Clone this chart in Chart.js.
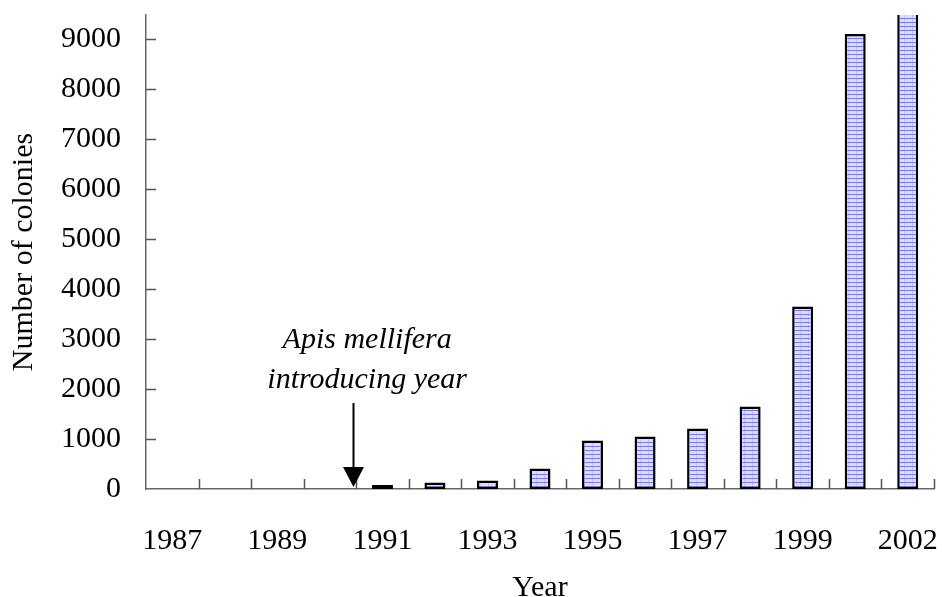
<!DOCTYPE html>
<html>
<head>
<meta charset="utf-8">
<script src="https://cdn.jsdelivr.net/npm/chart.js@4/dist/chart.umd.min.js"></script>
<style>
  body { margin: 0; background: #fff; }
  #wrap { width: 942px; height: 597px; position: relative; }
</style>
</head>
<body>
<div id="wrap"><canvas id="myChart"></canvas></div>
<script>
const years = ['1987', '1988', '1989', '1990', '1991', '1992', '1993', '1994',
               '1995', '1996', '1997', '1998', '1999', '2001', '2002'];
const colonies = [0, 0, 0, 0, 80, 130, 170, 410, 970, 1050, 1210, 1650, 3650, 9100, 9800];
const yTicks = [0, 1000, 2000, 3000, 4000, 5000, 6000, 7000, 8000, 9000];
const noteLines = ['Apis mellifera', 'introducing year'];

const serif = "'Liberation Serif', 'Times New Roman', serif";

// striped fill like the original bars
function makePattern() {
    const c = document.createElement('canvas');
    c.width = 8;
    c.height = 4;
    const g = c.getContext('2d');
    g.fillStyle = '#dcdcff';
    g.fillRect(0, 0, 8, 4);
    g.fillStyle = '#c4c4f2';
    g.fillRect(0, 0, 1, 4);
    g.fillStyle = '#7878ff';
    g.fillRect(0, 2, 8, 1);
    return g.createPattern(c, 'repeat');
}

const extras = {
    id: 'extras',
    afterDraw(chart) {
        const ctx = chart.ctx;
        const x = chart.scales.x;
        const y = chart.scales.y;
        const area = chart.chartArea;
        ctx.save();

        // tick marks pointing inward
        ctx.strokeStyle = '#555';
        ctx.lineWidth = 1.5;
        ctx.beginPath();
        yTicks.forEach(v => {
            if (v === 0) return;
            const py = Math.round(y.getPixelForValue(v)) + 0.5;
            ctx.moveTo(area.left, py);
            ctx.lineTo(area.left + 10, py);
        });
        for (let i = 0; i < years.length; i++) {
            const px = Math.round(x.getPixelForValue(i + 0.5)) + 0.5;
            ctx.moveTo(px, area.bottom);
            ctx.lineTo(px, area.bottom - 10);
        }
        ctx.stroke();

        // y axis title
        ctx.fillStyle = '#000';
        ctx.font = '30px ' + serif;
        ctx.textAlign = 'center';
        ctx.textBaseline = 'middle';
        ctx.translate(24, (area.top + area.bottom) / 2);
        ctx.rotate(-Math.PI / 2);
        ctx.fillText('Number of colonies', 0, 0);
        ctx.setTransform(1, 0, 0, 1, 0, 0);

        // annotation
        ctx.font = 'italic 30px ' + serif;
        const tx = x.getPixelForValue(3.71);
        ctx.fillText(noteLines[0], tx, y.getPixelForValue(2980));
        ctx.fillText(noteLines[1], tx, y.getPixelForValue(2180));

        const ax = x.getPixelForValue(3.45);
        const tail = y.getPixelForValue(1720);
        const headTop = y.getPixelForValue(440);
        const tip = y.getPixelForValue(40);
        ctx.strokeStyle = '#000';
        ctx.lineWidth = 2;
        ctx.beginPath();
        ctx.moveTo(ax, tail);
        ctx.lineTo(ax, headTop);
        ctx.stroke();
        ctx.beginPath();
        ctx.moveTo(ax - 10.5, headTop);
        ctx.lineTo(ax + 10.5, headTop);
        ctx.lineTo(ax, tip);
        ctx.closePath();
        ctx.fill();

        ctx.restore();
    }
};

const ctx = document.getElementById('myChart').getContext('2d');
const chart = new Chart(ctx, {
    type: 'bar',
    data: {
        labels: years,
        datasets: [{
            data: colonies,
            backgroundColor: makePattern(),
            borderColor: '#000',
            borderWidth: 2.5,
            borderSkipped: false,
            barPercentage: 0.4,
            categoryPercentage: 1
        }]
    },
    options: {
        responsive: true,
        maintainAspectRatio: false,
        animation: false,
        layout: { padding: { top: 15, right: 8, left: 0, bottom: 0 } },
        plugins: {
            legend: { display: false },
            tooltip: { enabled: false }
        },
        scales: {
            x: {
                offset: true,
                afterFit: s => { s.height = 108; s.paddingLeft = 0; s.paddingRight = 0; },
                grid: { display: false, drawTicks: false },
                border: { display: true, color: '#666', width: 1.5 },
                ticks: {
                    autoSkip: false,
                    maxRotation: 0,
                    padding: 34,
                    color: '#000',
                    font: { family: serif, size: 30 },
                    callback: (v, i) => (i % 2 === 0 ? years[i] : '')
                },
                title: {
                    display: true,
                    text: 'Year',
                    color: '#000',
                    padding: 0,
                    font: { family: serif, size: 30, lineHeight: 0.6 }
                }
            },
            y: {
                min: 0,
                max: 9480,
                afterFit: s => { s.width = 146; s.paddingTop = 0; s.paddingBottom = 0; },
                afterBuildTicks: s => { s.ticks = yTicks.map(v => ({ value: v })); },
                grid: { display: false, drawTicks: false },
                border: { display: true, color: '#666', width: 1.5 },
                ticks: {
                    padding: 25,
                    color: '#000',
                    font: { family: serif, size: 30 },
                    callback: v => String(v)
                }
            }
        }
    },
    plugins: [extras]
});
</script>
</body>
</html>
